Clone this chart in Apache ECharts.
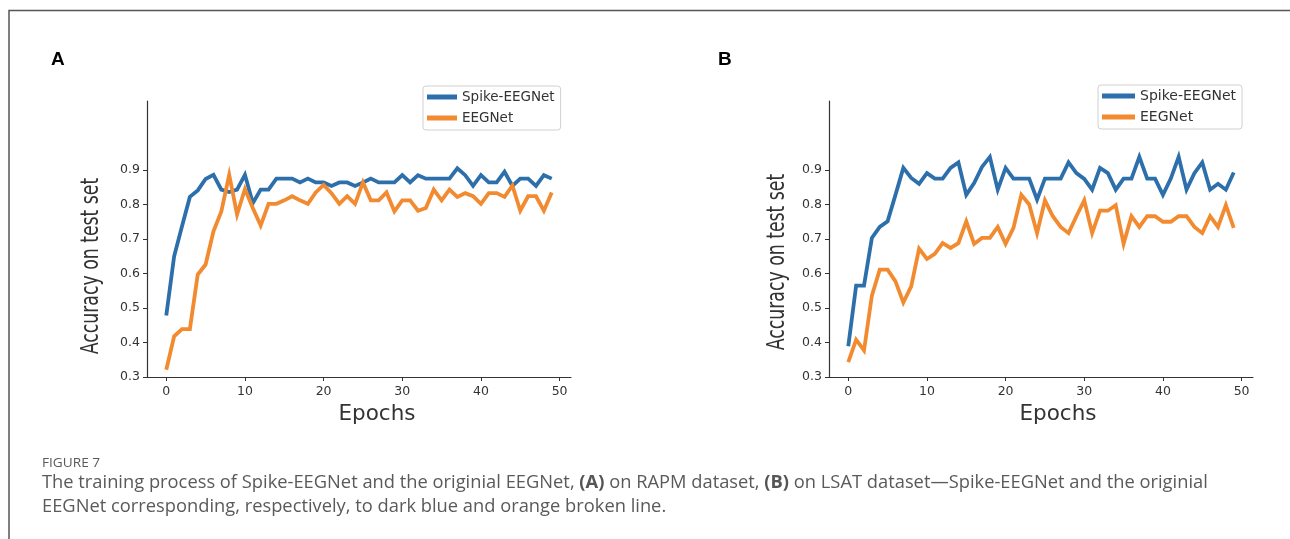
<!DOCTYPE html>
<html>
<head>
<meta charset="utf-8">
<script src="https://cdn.jsdelivr.net/npm/echarts@6/dist/echarts.min.js"></script>
<style>
html,body{margin:0;padding:0;background:#fff;}
#c{width:1290px;height:539px;}
</style>
</head>
<body>
<div id="c"></div>
<script>
var epochs = [0,1,2,3,4,5,6,7,8,9,10,11,12,13,14,15,16,17,18,19,20,21,22,23,24,25,26,27,28,29,30,31,32,33,34,35,36,37,38,39,40,41,42,43,44,45,46,47,48,49];
var spikeA = [0.478,0.65,0.737,0.822,0.841,0.874,0.886,0.843,0.836,0.843,
  0.886,0.804,0.843,0.843,0.875,0.875,0.875,0.864,0.875,0.864,
  0.864,0.854,0.864,0.864,0.854,0.864,0.875,0.864,0.864,0.864,
  0.885,0.864,0.885,0.875,0.875,0.875,0.875,0.905,0.885,0.854,
  0.885,0.864,0.864,0.895,0.854,0.875,0.875,0.854,0.885,0.875];
var eegA = [0.321,0.418,0.439,0.439,0.597,0.626,0.722,0.780,0.886,0.771,
  0.845,0.79,0.739,0.802,0.802,0.812,0.824,0.812,0.802,0.835,
  0.857,0.833,0.802,0.824,0.802,0.864,0.812,0.812,0.835,0.78,
  0.812,0.812,0.782,0.79,0.843,0.812,0.843,0.822,0.833,0.824,
  0.802,0.833,0.833,0.822,0.855,0.782,0.824,0.824,0.782,0.835];
var spikeB = [0.389,0.565,0.565,0.703,0.735,0.751,0.828,0.906,0.877,0.86,
  0.891,0.875,0.875,0.906,0.922,0.828,0.862,0.909,0.938,0.843,
  0.906,0.875,0.875,0.875,0.814,0.875,0.875,0.875,0.922,0.891,
  0.874,0.843,0.906,0.891,0.843,0.875,0.875,0.938,0.875,0.875,
  0.828,0.875,0.938,0.843,0.891,0.922,0.843,0.86,0.843,0.893];
var eegB = [0.343,0.408,0.377,0.536,0.611,0.611,0.577,0.516,0.563,0.672,
  0.642,0.657,0.688,0.674,0.688,0.751,0.686,0.703,0.703,0.735,
  0.686,0.732,0.828,0.8,0.717,0.812,0.766,0.735,0.717,0.766,
  0.812,0.717,0.782,0.782,0.798,0.686,0.766,0.735,0.766,0.766,
  0.75,0.75,0.766,0.766,0.735,0.717,0.766,0.735,0.798,0.732];
var xTicks = [0,10,20,30,40,50];
var yTicks = [0.3,0.4,0.5,0.6,0.7,0.8,0.9];
var seriesNames = ['Spike-EEGNet','EEGNet'];
var yLabel = 'Accuracy on test set';
var xLabel = 'Epochs';
var panelLabels = ['A','B'];
var figTitle = 'FIGURE 7';
var captionLine1 = 'The training process of Spike-EEGNet and the originial EEGNet, {b|(A)} on RAPM dataset, {b|(B)} on LSAT dataset\u2014Spike-EEGNet and the originial';
var captionLine2 = 'EEGNet corresponding, respectively, to dark blue and orange broken line.';

var BLUE = '#2d6faa', ORANGE = '#f28a30';
function pairs(ys){ return ys.map(function(v,i){ return [epochs[i], v]; }); }

var tickFont = {fontFamily:'DejaVu Sans', fontSize:12.5, color:'#333'};
function xAxis(gi){
  return {type:'value', gridIndex:gi, min:-2.45, max:51.45,
    axisLine:{show:true, onZero:false, lineStyle:{color:'#333', width:1.2}},
    axisTick:{show:true, length:4, customValues:xTicks, lineStyle:{color:'#333'}},
    axisLabel:Object.assign({customValues:xTicks, margin:8, formatter:function(v){return String(Math.round(v));}}, tickFont),
    splitLine:{show:false}};
}
function yAxis(gi){
  return {type:'value', gridIndex:gi, min:0.3, max:1.1,
    axisLine:{show:true, onZero:false, lineStyle:{color:'#333', width:1.2}},
    axisTick:{show:true, length:4, customValues:yTicks, lineStyle:{color:'#333'}},
    axisLabel:Object.assign({customValues:yTicks, margin:7, formatter:function(v){return v.toFixed(1);}}, tickFont),
    splitLine:{show:false}};
}
function line(name, data, gi, color){
  return {type:'line', name:name, xAxisIndex:gi, yAxisIndex:gi, data:pairs(data),
    showSymbol:false, symbol:'none', lineStyle:{color:color, width:3.8, join:'miter'}, itemStyle:{color:color},
    z: name === 'EEGNet' ? 3 : 2, animation:false};
}
function legend(left, top, fs, iw){
  return {data:seriesNames, orient:'vertical', left:left, top:top, icon:'rect',
    itemWidth:iw, itemHeight:5, itemGap:5,
    padding:[3,6,4,4], backgroundColor:'#fff', borderColor:'#d0d0d0', borderWidth:1, borderRadius:3,
    textStyle:{fontFamily:'DejaVu Sans', fontSize:fs, color:'#333', lineHeight:16},
    selectedMode:false};
}
function ylab(x, y){
  return {type:'text', x:x, y:y, rotation:Math.PI/2, scaleX:0.72, scaleY:1,
    style:{text:yLabel, fontFamily:'DejaVu Sans', fontSize:24, fill:'#333', align:'center', verticalAlign:'middle'}};
}
function xlab(x, y){
  return {type:'text', x:x, y:y,
    style:{text:xLabel, fontFamily:'DejaVu Sans', fontSize:21.5, fill:'#333', align:'center', verticalAlign:'middle'}};
}

var chart = echarts.init(document.getElementById('c'), null, {renderer:'canvas'});
chart.setOption({
  animation:false,
  backgroundColor:'#fff',
  grid:[
    {left:147, top:101, width:424, height:276, outerBoundsMode:'none', containLabel:false},
    {left:829, top:101, width:424, height:276, outerBoundsMode:'none', containLabel:false}
  ],
  xAxis:[xAxis(0), xAxis(1)],
  yAxis:[yAxis(0), yAxis(1)],
  legend:[legend(423, 86, 13.5, 30), legend(1098, 85, 14, 33)],
  series:[
    line(seriesNames[0], spikeA, 0, BLUE),
    line(seriesNames[1], eegA, 0, ORANGE),
    line(seriesNames[0], spikeB, 1, BLUE),
    line(seriesNames[1], eegB, 1, ORANGE)
  ],
  graphic:[
    {type:'polyline', shape:{points:[[9,539],[9,10.5],[1290,10.5]]}, style:{stroke:'#555', lineWidth:1.5, fill:null}},
    {type:'text', x:51, y:60, style:{text:panelLabels[0], fontFamily:'Liberation Sans', fontWeight:'bold', fontSize:19, fill:'#000', verticalAlign:'middle'}},
    {type:'text', x:718, y:60, style:{text:panelLabels[1], fontFamily:'Liberation Sans', fontWeight:'bold', fontSize:19, fill:'#000', verticalAlign:'middle'}},
    ylab(92, 266), ylab(778, 262),
    xlab(377, 414), xlab(1058, 414),
    {type:'text', x:42, y:463, scaleX:1.05, style:{text:figTitle, fontFamily:'Open Sans', fontSize:13, fill:'#5a5a5a', verticalAlign:'middle'}},
    {type:'text', x:42, y:483, scaleX:1.017, style:{
      text:captionLine1,
      fontFamily:'Open Sans', fontSize:18, fill:'#5a5a5a', verticalAlign:'middle',
      rich:{b:{fontFamily:'Open Sans', fontSize:18, fontWeight:'bold', fill:'#555'}}}},
    {type:'text', x:42, y:507, scaleX:1.017, style:{
      text:captionLine2,
      fontFamily:'Open Sans', fontSize:18, fill:'#5a5a5a', verticalAlign:'middle'}}
  ]
});
</script>
</body>
</html>
